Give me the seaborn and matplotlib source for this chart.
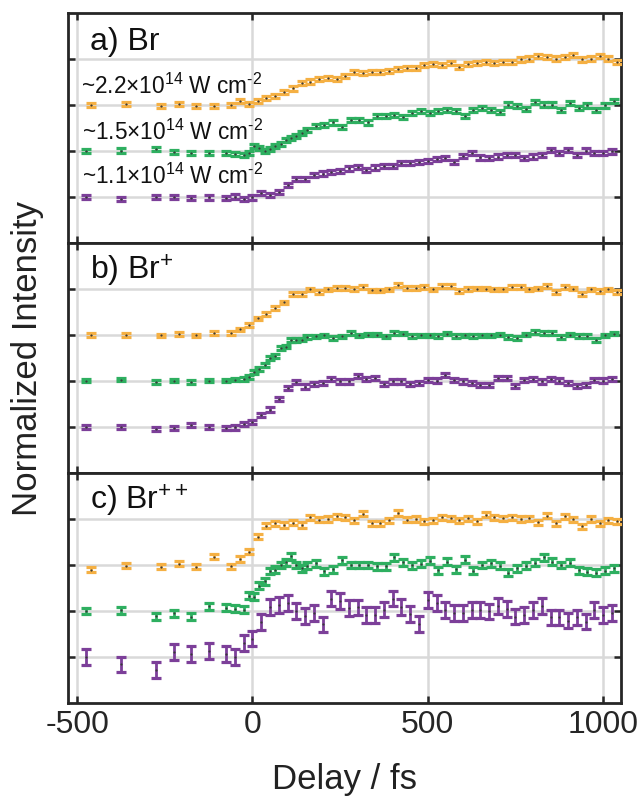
import numpy as np
import pandas as pd
import matplotlib
matplotlib.use("Agg")
import matplotlib.pyplot as plt
import seaborn as sns

# ---- delay grids (fs) ----
DELAY_COARSE = [-475, -375, -275, -225, -175, -125, -75, -50, -25] + list(range(0, 1050, 25))
DELAY_FINE = ([-475, -375, -275, -225, -175, -125, -75, -50]
              + list(range(-25, 160, 15)) + list(range(180, 1031, 25)))
T0_SHIFT_HIGH = 15  # time-zero offset of the highest-intensity scan

intensity_labels = [r"~2.2×10$^{\mathregular{14}}$ W cm$^{\text{-2}}$",
                    r"~1.5×10$^{\mathregular{14}}$ W cm$^{\text{-2}}$",
                    r"~1.1×10$^{\mathregular{14}}$ W cm$^{\text{-2}}$"]
panel_titles = ["a) Br", r"b) Br$^{\mathregular{+}}$", r"c) Br$^{\mathregular{++}}$"]

# ---- normalized, vertically offset intensities ----
br_high = [3.00, 3.02, 2.98, 3.02, 2.98, 2.98, 3.00, 3.09, 3.03,
           3.09, 3.16, 3.20, 3.28, 3.36, 3.47, 3.51, 3.56, 3.58, 3.56,
           3.63, 3.72, 3.69, 3.71, 3.71, 3.74, 3.78, 3.80, 3.81,
           3.87, 3.89, 3.87, 3.91, 3.82, 3.89, 3.91, 3.94, 3.91, 3.93, 3.93, 3.99,
           4.01, 4.07, 4.04, 4.01, 4.04, 4.09, 3.99, 4.01, 4.06, 4.01, 3.94]
br_mid = [2.00, 2.01, 2.04, 1.98, 1.96, 1.95, 1.95, 1.93,
          1.91, 1.95, 2.10, 2.06, 2.00, 2.04, 2.10, 2.15, 2.24, 2.28, 2.33, 2.39, 2.45,
          2.55, 2.57, 2.62, 2.52, 2.68, 2.68, 2.62, 2.77, 2.77, 2.79, 2.74, 2.83, 2.87,
          2.82, 2.87, 2.90, 2.87, 2.77, 2.90, 2.94, 2.90, 2.85, 3.01, 2.98, 2.92, 3.07,
          3.01, 3.01, 2.89, 3.04, 2.94, 2.99, 2.89, 2.99, 3.09]
br_low = [1.00, 0.96, 1.00, 1.00, 0.97, 0.99, 0.97, 1.01, 0.95,
          0.99, 1.09, 1.04, 1.11, 1.26, 1.40, 1.40, 1.48, 1.51, 1.55,
          1.57, 1.62, 1.66, 1.59, 1.64, 1.67, 1.67, 1.73, 1.74, 1.77,
          1.79, 1.82, 1.84, 1.77, 1.89, 1.95, 1.86, 1.84, 1.88, 1.91,
          1.91, 1.84, 1.88, 1.91, 2.02, 1.95, 2.02, 1.91, 2.01, 1.95, 1.96, 1.99]

brp_high = [3.00, 3.00, 2.99, 3.02, 2.99, 3.05, 3.04, 3.12, 3.22,
            3.36, 3.45, 3.58, 3.71, 3.89, 3.89, 3.99, 3.94, 3.99, 4.02,
            4.02, 4.00, 4.04, 3.97, 3.97, 3.99, 4.08, 4.02, 4.02,
            4.04, 3.99, 4.06, 4.06, 3.96, 4.00, 4.01, 4.01, 3.99, 3.99, 4.04, 4.04,
            3.99, 4.01, 4.06, 3.94, 4.04, 4.01, 3.89, 3.99, 3.96, 3.99, 3.94]
brp_mid = [2.01, 2.03, 1.98, 2.01, 1.98, 2.01, 2.01, 2.03,
           2.04, 2.08, 2.20, 2.26, 2.35, 2.50, 2.55, 2.72, 2.75, 2.89, 2.89, 2.90, 2.95,
           2.97, 2.99, 2.94, 2.97, 3.05, 2.99, 3.01, 3.01, 2.97, 3.05, 3.03, 2.98, 2.99,
           2.99, 2.98, 3.03, 2.98, 2.99, 2.98, 2.99, 2.99, 3.01, 2.96, 2.94, 3.01, 3.07,
           3.05, 3.05, 2.96, 3.01, 2.98, 2.98, 2.89, 2.99, 3.03]
brp_low = [1.00, 1.00, 0.95, 0.97, 1.04, 1.00, 0.97, 0.99, 1.07,
           1.10, 1.26, 1.38, 1.60, 1.84, 1.97, 1.88, 1.94, 1.95, 2.04,
           1.99, 1.99, 2.10, 2.04, 2.06, 1.94, 1.99, 1.99, 1.94, 1.96,
           2.02, 2.01, 2.13, 2.02, 1.99, 1.95, 1.91, 1.91, 2.06, 2.06,
           1.89, 2.02, 2.04, 1.99, 2.04, 2.01, 1.96, 1.89, 1.91, 2.02, 2.01, 2.04]

brpp_high = [2.90, 2.98, 2.96, 3.03, 2.96, 3.18, 2.97, 3.13, 3.29,
             3.61, 3.85, 3.91, 3.87, 3.92, 3.87, 4.04, 3.98, 4.00, 4.06,
             4.04, 3.97, 4.11, 3.91, 3.91, 3.97, 4.13, 3.98, 4.00,
             3.95, 3.97, 4.04, 4.02, 3.97, 4.02, 3.95, 4.09, 4.04, 4.02, 4.04, 4.00,
             4.02, 3.93, 4.07, 3.91, 4.06, 3.99, 3.84, 4.00, 3.91, 3.97, 3.95]
brpp_mid = [2.00, 2.02, 1.89, 1.95, 1.88, 2.10, 2.07, 2.05,
            2.03, 2.33, 2.31, 2.55, 2.65, 2.87, 2.90, 3.00, 3.06, 3.19, 3.00, 2.93, 2.98,
            3.04, 2.86, 2.91, 3.10, 3.00, 3.00, 3.00, 2.97, 2.97, 3.17, 3.06, 2.99, 3.03,
            3.09, 2.89, 3.07, 2.91, 3.11, 2.88, 3.00, 3.04, 2.98, 2.83, 2.93, 2.98, 3.05,
            3.17, 3.07, 3.00, 3.05, 2.89, 2.85, 2.83, 2.88, 2.93]
brpp_low = [1.00, 0.84, 0.72, 1.11, 1.07, 1.13, 1.07, 1.00, 1.30,
            1.40, 1.76, 2.09, 2.13, 2.17, 2.00, 1.89, 1.95, 1.71, 2.27,
            2.22, 2.06, 2.08, 1.91, 1.91, 2.03, 2.27, 2.09, 1.93, 1.72,
            2.24, 2.17, 2.02, 1.96, 1.95, 2.02, 2.02, 1.99, 2.11, 2.04,
            1.88, 1.91, 2.02, 2.11, 1.86, 1.86, 1.79, 1.86, 1.77, 2.02, 1.91, 1.95]

# half-widths of the error bars: (high, mid, low) for each fragment
err_br = [0.045, 0.045, 0.045]
err_brp = [0.04, 0.04, 0.045]
err_brpp = [0.055, 0.075, 0.17]

colors = ["#F5B043", "#2EAF60", "#7C3F99"]
dot_color = "#3a3a3a"

panels = [
    (br_high, br_mid, br_low, err_br),
    (brp_high, brp_mid, brp_low, err_brp),
    (brpp_high, brpp_mid, brpp_low, err_brpp),
]
delay_sets = [np.array(DELAY_COARSE) + T0_SHIFT_HIGH,
              np.array(DELAY_FINE),
              np.array(DELAY_COARSE)]

rows = []
for p, (hi, mid, lo, errs) in enumerate(panels):
    for k, vals in enumerate((hi, mid, lo)):
        d = delay_sets[k]
        assert len(d) == len(vals)
        for t, v in zip(d, vals):
            rows.append({"panel": p, "trace": k, "delay": t, "signal": v, "err": errs[k]})
df = pd.DataFrame(rows)

sns.set_theme(style="ticks")
plt.rcParams["font.family"] = ["Liberation Sans", "DejaVu Sans"]
plt.rcParams["mathtext.fontset"] = "custom"
plt.rcParams["mathtext.rm"] = "Liberation Sans"
plt.rcParams["mathtext.it"] = "Liberation Sans:italic"
plt.rcParams["mathtext.bf"] = "Liberation Sans:bold"
plt.rcParams["axes.unicode_minus"] = False
plt.rcParams["axes.axisbelow"] = True

W, H = 638, 800
fig, axes = plt.subplots(3, 1, figsize=(W / 100, H / 100), dpi=100, sharex=True)
fig.subplots_adjust(left=68 / W, right=621 / W, top=1 - 13 / H, bottom=1 - 703 / H, hspace=0)

for p, ax in enumerate(axes):
    sub = df[df.panel == p]
    for k in range(3):
        s = sub[sub.trace == k]
        ax.errorbar(s.delay, s.signal, yerr=s.err, fmt="none", ecolor=colors[k],
                    elinewidth=2.0, capsize=3.9, capthick=2.3, zorder=3)
    sns.scatterplot(data=sub, x="delay", y="signal", color=dot_color, s=2.5,
                    linewidth=0, ax=ax, zorder=4, legend=False)
    ax.set_xlim(-526, 1051)
    ax.set_ylim(0, 5)
    ax.set_yticks([1, 2, 3, 4])
    ax.set_xticks([-500, 0, 500, 1000])
    ax.set_yticklabels([])
    ax.set_xlabel("")
    ax.set_ylabel("")
    ax.grid(True, color="#d9d9d9", linewidth=1.8)
    for sp in ax.spines.values():
        sp.set_visible(True)
        sp.set_color("#262626")
        sp.set_linewidth(2.0)
    ax.tick_params(direction="in", length=5, width=1.8, color="#262626",
                   top=True, right=True, labelsize=23, pad=5)
    ax.text(0.04, 0.84, panel_titles[p], transform=ax.transAxes, fontsize=23,
            va="baseline", ha="left", color="#111111")

axes[0].tick_params(labelbottom=False)
axes[1].tick_params(labelbottom=False)

label_pos = [(-490, 3.25), (-487, 2.25), (-487, 1.28)]
for (x, y), txt in zip(label_pos, intensity_labels):
    axes[0].text(x, y, txt, fontsize=16.3, va="baseline", ha="left", color="#111111")

fig.text((68 + 621) / 2 / W, 1 - 789 / H, "Delay / fs", fontsize=25, ha="center",
         va="baseline", color="#222222")
fig.text(28 / W, 1 - 358 / H, "Normalized Intensity", fontsize=25, rotation=90,
         ha="center", va="center", color="#222222")

fig.savefig("out.png", dpi=100)
